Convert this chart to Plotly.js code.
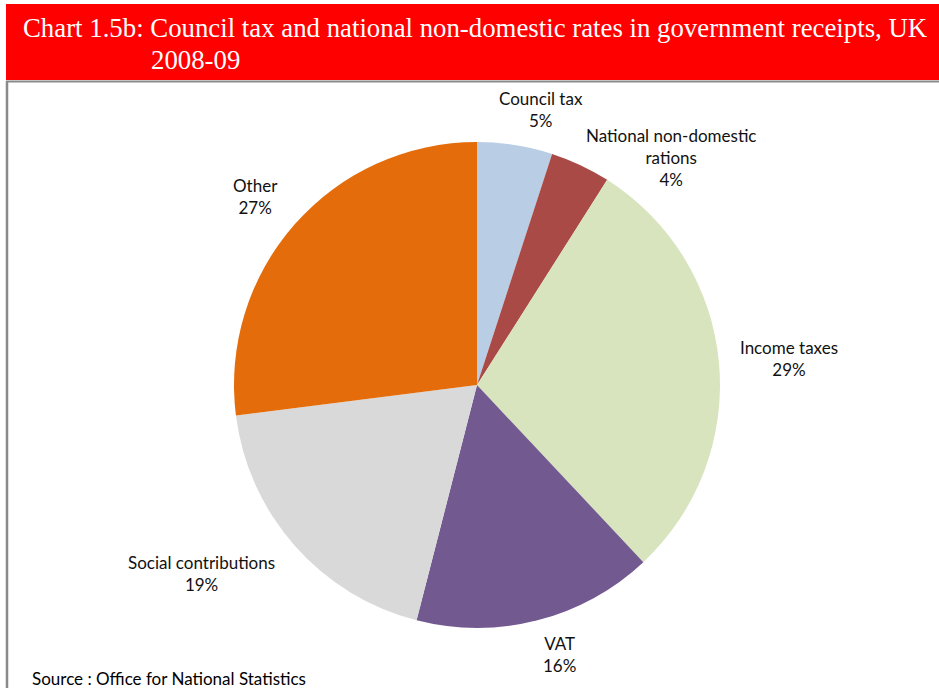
<!DOCTYPE html>
<html>
<head>
<meta charset="utf-8">
<script src="https://cdn.plot.ly/plotly-3.0.1.min.js"></script>
<style>
  html, body { margin: 0; padding: 0; background: #ffffff; }
  #chart { width: 939px; height: 688px; }
</style>
</head>
<body>
<div id="chart"></div>
<script>
// Shares of UK government receipts, 2008-09 (per cent)
const categories = ['Council tax', 'National non-domestic rations', 'Income taxes', 'VAT', 'Social contributions', 'Other'];
const shares = [5, 4, 29, 16, 19, 27];
const labelLines = ['Council tax', 'National non-domestic<br>rations', 'Income taxes', 'VAT', 'Social contributions', 'Other'];
const sliceColors = ['#B9CDE5', '#AA4A46', '#D8E4BE', '#725A91', '#D9D9D9', '#E46C0A'];

const titleLine1 = 'Chart 1.5b: Council tax and national non-domestic rates in government receipts, UK';
const titleLine2 = '2008-09';
const sourceText = 'Source : Office for National Statistics';

// Page geometry (pixels)
const W = 939, H = 688;
const cx = 477, cy = 385, R = 243;   // pie centre and radius
const labelGap = 18;                 // distance of label box from the rim
const charW = 8, lineH = 21;         // rough label box metrics
const labelNudge = [[16, 3], [47, 37], [4, 0], [15, -4], [-20, 2], [-11, -2]];

const labelFont = { family: 'Lato, "Open Sans", sans-serif', size: 17, color: '#111111' };
const titleFont = { family: '"Liberation Serif", "Times New Roman", serif', size: 26.8, color: '#ffffff' };

const px = x => x / W;
const py = y => 1 - y / H;

// Data labels placed around the pie from each slice's mid angle
const total = shares.reduce((a, b) => a + b, 0);
let cum = 0;
const labelAnnotations = shares.map((v, i) => {
  const mid = (cum + v / 2) / total * 2 * Math.PI;
  cum += v;
  const s = Math.sin(mid), c = Math.cos(mid);
  const lines = labelLines[i].split('<br>').concat([v + '%']);
  const w = Math.max(...lines.map(l => l.length)) * charW;
  const h = lines.length * lineH;
  const x = cx + (R + labelGap) * s + (w / 2) * s + labelNudge[i][0];
  const y = cy - (R + labelGap) * c - (h / 2) * c + labelNudge[i][1];
  return {
    xref: 'paper', yref: 'paper', x: px(x), y: py(y),
    xanchor: 'center', yanchor: 'middle', align: 'center',
    showarrow: false,
    text: labelLines[i] + '<br>' + v + '%',
    font: labelFont
  };
});

const trace = {
  type: 'pie',
  labels: categories,
  values: shares,
  sort: false,
  direction: 'clockwise',
  rotation: 0,
  textinfo: 'none',
  hoverinfo: 'label+percent',
  marker: { colors: sliceColors, line: { width: 0 } },
  domain: { x: [px(cx - R), px(cx + R)], y: [py(cy + R), py(cy - R)] },
  showlegend: false
};

const layout = {
  width: W, height: H,
  margin: { l: 0, r: 0, t: 0, b: 0 },
  paper_bgcolor: '#ffffff',
  showlegend: false,
  shapes: [
    // red title band
    { type: 'rect', xref: 'paper', yref: 'paper', x0: px(6), x1: 1, y0: py(80), y1: py(4),
      fillcolor: '#FF0000', line: { width: 0 }, layer: 'below' },
    // grey rule under the band
    { type: 'line', xref: 'paper', yref: 'paper', x0: px(6), x1: 1, y0: py(81.5), y1: py(81.5),
      line: { color: '#8A8A8A', width: 2 } },
    // grey frame on the left
    { type: 'line', xref: 'paper', yref: 'paper', x0: px(7), x1: px(7), y0: py(81), y1: 0,
      line: { color: '#8A8A8A', width: 2.5 } }
  ],
  annotations: [
    { xref: 'paper', yref: 'paper', x: px(21), y: py(28), xanchor: 'left', yanchor: 'middle',
      showarrow: false, text: titleLine1, font: titleFont },
    { xref: 'paper', yref: 'paper', x: px(149), y: py(60), xanchor: 'left', yanchor: 'middle',
      showarrow: false, text: titleLine2, font: titleFont },
    { xref: 'paper', yref: 'paper', x: px(30), y: py(678), xanchor: 'left', yanchor: 'middle',
      showarrow: false, text: sourceText,
      font: { family: 'Lato, "Open Sans", sans-serif', size: 17, color: '#000000' } }
  ].concat(labelAnnotations)
};

Plotly.newPlot('chart', [trace], layout, { displayModeBar: false, staticPlot: true });
</script>
</body>
</html>
